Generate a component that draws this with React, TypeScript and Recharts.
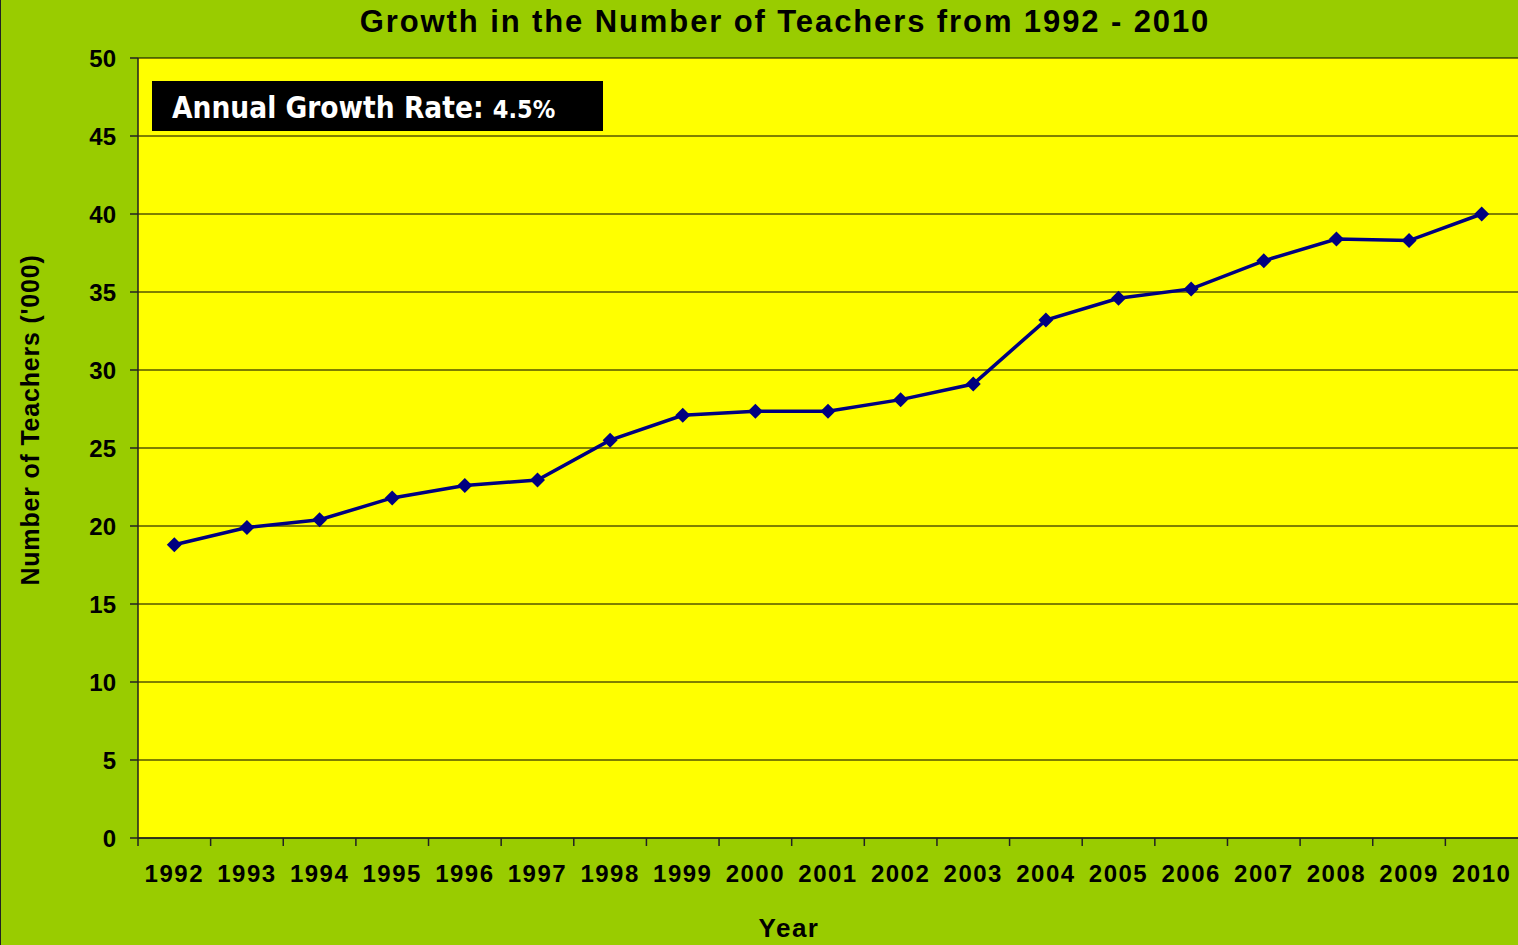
import React from 'react';
import { LineChart, Line, XAxis, YAxis, CartesianGrid } from 'recharts';

const years = [
  '1992', '1993', '1994', '1995', '1996', '1997', '1998', '1999', '2000', '2001',
  '2002', '2003', '2004', '2005', '2006', '2007', '2008', '2009', '2010',
];
// number of teachers, thousands
const teachers = [
  18.8, 19.9, 20.4, 21.8, 22.6, 22.95, 25.5, 27.1, 27.35, 27.35,
  28.1, 29.1, 33.2, 34.6, 35.2, 37.0, 38.4, 38.3, 40.0,
];
const yTicks = [0, 5, 10, 15, 20, 25, 30, 35, 40, 45, 50];

const data = years.map((year, i) => ({ year, teachers: teachers[i] }));

const W = 1518;
const H = 945;
const LEFT = 138;
const TOP = 58;
const X_AXIS_H = 107;
const HALF_BAND = (W - LEFT) / years.length / 2;

const GREEN = '#99CC00';
const YELLOW = '#FFFF00';
const NAVY = '#000080';
const FONT = '"Liberation Sans", Arial, sans-serif';

const XTick = (props: any) => {
  const { x, y, payload } = props;
  return (
    <g>
      <line x1={x - HALF_BAND} x2={x - HALF_BAND} y1={y} y2={y + 8} stroke="#222" strokeWidth={1.5} />
      <text
        x={x}
        y={y + 44}
        textAnchor="middle"
        fill="#000"
        fontSize={24}
        fontWeight="bold"
        fontFamily={FONT}
        letterSpacing={1.5}
      >
        {payload.value}
      </text>
    </g>
  );
};

const Diamond = (props: any) => {
  const { cx, cy, index } = props;
  const s = 7.5;
  return (
    <polygon
      key={index}
      points={`${cx},${cy - s} ${cx + s},${cy} ${cx},${cy + s} ${cx - s},${cy}`}
      fill={NAVY}
    />
  );
};

export default function App() {
  return (
    <div style={{ position: 'absolute', left: 0, top: 0, width: W, height: H, background: GREEN, overflow: 'hidden' }}>
      <div style={{ position: 'absolute', left: 0, top: 0, width: 1, height: H, background: '#222' }} />
      <LineChart width={W} height={H} data={data} margin={{ top: TOP, right: 0, bottom: 0, left: 0 }}>
        <CartesianGrid vertical={false} fill={YELLOW} stroke="#000" strokeWidth={1} />
        <XAxis
          dataKey="year"
          height={X_AXIS_H}
          padding={{ left: HALF_BAND, right: HALF_BAND }}
          tick={<XTick />}
          tickLine={false}
          tickSize={0}
          tickMargin={0}
          interval={0}
          axisLine={{ stroke: '#222', strokeWidth: 1.5 }}
          label={{
            content: ({ viewBox }: any) => (
              <text
                x={viewBox.x + viewBox.width / 2 - 39}
                y={viewBox.y + 99}
                textAnchor="middle"
                fill="#000"
                fontSize={26}
                fontWeight="bold"
                fontFamily={FONT}
                letterSpacing={1.5}
              >
                Year
              </text>
            ),
          }}
        />
        <YAxis
          width={LEFT}
          domain={[0, 50]}
          ticks={yTicks}
          interval={0}
          tickSize={8}
          tickMargin={14}
          tickLine={{ stroke: '#222', strokeWidth: 1.5 }}
          axisLine={{ stroke: '#222', strokeWidth: 1.5 }}
          tick={{ fill: '#000', fontSize: 24, fontWeight: 'bold', fontFamily: FONT }}
          label={{
            content: ({ viewBox }: any) => {
              const cx = viewBox.x + 39;
              const cy = viewBox.y + viewBox.height / 2 - 28;
              return (
                <text
                  x={cx}
                  y={cy}
                  transform={`rotate(-90, ${cx}, ${cy})`}
                  textAnchor="middle"
                  fill="#000"
                  fontSize={25}
                  fontWeight="bold"
                  fontFamily={FONT}
                  letterSpacing={0.8}
                >
                  Number of Teachers ('000)
                </text>
              );
            },
          }}
        />
        <Line
          type="linear"
          dataKey="teachers"
          stroke={NAVY}
          strokeWidth={3.5}
          dot={Diamond}
          activeDot={false}
          isAnimationActive={false}
        />
      </LineChart>
      <div
        style={{
          position: 'absolute',
          left: 0,
          width: 1570,
          top: 3,
          textAlign: 'center',
          fontFamily: FONT,
          fontWeight: 'bold',
          fontSize: 31,
          letterSpacing: 1.9,
          color: '#000',
          lineHeight: '38px',
          whiteSpace: 'nowrap',
        }}
      >
        Growth in the Number of Teachers from 1992 - 2010
      </div>
      <div
        style={{
          position: 'absolute',
          left: 152,
          top: 81,
          width: 451,
          height: 50,
          background: '#000',
          color: '#fff',
          fontFamily: '"DejaVu Sans Condensed", "DejaVu Sans", sans-serif',
          fontWeight: 'bold',
          whiteSpace: 'nowrap',
          boxSizing: 'border-box',
          paddingLeft: 20,
          lineHeight: '54px',
        }}
      >
        <span style={{ fontSize: 29.5 }}>Annual Growth Rate: </span>
        <span style={{ fontSize: 25 }}>4.5%</span>
      </div>
    </div>
  );
}
